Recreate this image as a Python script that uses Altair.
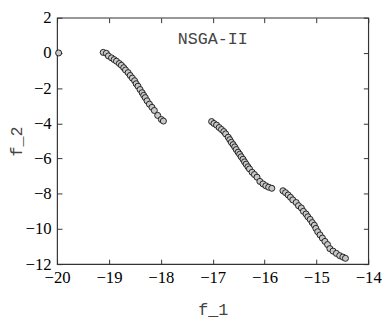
import altair as alt
import pandas as pd

f1 = [
    -19.97,
    -19.11, -19.05, -19.01, -18.95, -18.90, -18.855, -18.80, -18.76, -18.715, -18.68,
    -18.63, -18.59, -18.55, -18.505, -18.475, -18.44, -18.40, -18.36, -18.33, -18.30,
    -18.265, -18.22, -18.17, -18.125, -18.06, -17.99, -17.95,
    -17.02, -16.975, -16.925, -16.875, -16.83, -16.785, -16.75, -16.70, -16.67, -16.64,
    -16.605, -16.575, -16.545, -16.51, -16.48, -16.45, -16.415, -16.385, -16.355, -16.32,
    -16.29, -16.24, -16.195, -16.145, -16.09, -16.03, -15.975, -15.92, -15.86,
    -15.645, -15.595, -15.545, -15.50, -15.455, -15.39, -15.345, -15.29, -15.25, -15.20,
    -15.165, -15.12, -15.08, -15.04, -15.01, -14.975, -14.93, -14.885, -14.835, -14.785,
    -14.74, -14.68, -14.615, -14.55, -14.49, -14.44,
]
f2 = [
    0.0,
    0.03, -0.02, -0.17, -0.28, -0.38, -0.47, -0.60, -0.70, -0.84, -0.97,
    -1.12, -1.28, -1.43, -1.58, -1.75, -1.89, -2.08, -2.26, -2.41, -2.54,
    -2.72, -2.91, -3.09, -3.27, -3.55, -3.78, -3.87,
    -3.90, -4.01, -4.10, -4.24, -4.35, -4.47, -4.60, -4.79, -4.93, -5.08,
    -5.21, -5.34, -5.49, -5.64, -5.76, -5.90, -6.04, -6.19, -6.32, -6.47,
    -6.59, -6.78, -6.91, -7.06, -7.30, -7.44, -7.55, -7.63, -7.69,
    -7.83, -7.94, -8.07, -8.20, -8.35, -8.50, -8.68, -8.81, -9.00, -9.15,
    -9.31, -9.46, -9.64, -9.79, -9.97, -10.16, -10.34, -10.52, -10.71, -10.89,
    -11.12, -11.26, -11.39, -11.52, -11.60, -11.67,
]

x_ticks = [-20, -19, -18, -17, -16, -15, -14]
y_ticks = [-12, -10, -8, -6, -4, -2, 0, 2]

title_x = [-17.0]
title_y = [0.78]
title_text = ["NSGA-II"]

SERIF = "Liberation Serif, Times New Roman, serif"
MONO = "Liberation Mono, Courier New, monospace"

df = pd.DataFrame({"f1": f1, "f2": f2})
df_title = pd.DataFrame({"f1": title_x, "f2": title_y, "label": title_text})

xscale = alt.Scale(domain=[-20, -14], nice=False, zero=False)
yscale = alt.Scale(domain=[-12, 2], nice=False, zero=False)

common = dict(tickSize=5, offset=-5, domain=False, grid=False, labelFlush=False,
              labelFont=SERIF, labelFontSize=17, labelColor="#000000",
              titleFont=MONO, titleFontSize=17, titleFontWeight="normal",
              titleColor="#444444", tickColor="#333333", tickWidth=1)

points = alt.Chart(df).mark_circle(
    size=38, color="#c8c8c8", stroke="#222222", strokeWidth=1, opacity=1
).encode(
    x=alt.X("f1:Q", scale=xscale, axis=alt.Axis(
        orient="bottom", values=x_ticks, labelPadding=6, title="f_1",
        titlePadding=16, format="d", **common)),
    y=alt.Y("f2:Q", scale=yscale, axis=alt.Axis(
        orient="left", values=y_ticks, labelPadding=6, title="f_2",
        titlePadding=0, format="d", **common)),
)

mirror = alt.Chart(df).mark_circle(opacity=0).encode(
    x=alt.X("f1:Q", scale=xscale, axis=alt.Axis(
        orient="top", values=x_ticks, labels=False, title=None, **common)),
    y=alt.Y("f2:Q", scale=yscale, axis=alt.Axis(
        orient="right", values=y_ticks, labels=False, title=None, **common)),
)

label = alt.Chart(df_title).mark_text(
    font=MONO, fontSize=17, color="#444444", baseline="middle", align="center"
).encode(
    x=alt.X("f1:Q", scale=xscale, axis=None),
    y=alt.Y("f2:Q", scale=yscale, axis=None),
    text="label:N",
)

chart = alt.layer(points, mirror, label).resolve_axis(
    x="independent", y="independent"
).properties(
    width=317, height=251,
    autosize=alt.AutoSizeParams(type="none"),
    padding={"left": 50, "top": 7, "right": 14, "bottom": 54},
).configure_view(
    stroke="#333333", strokeWidth=1.2
)

chart.save("out.html", embed_options={"renderer": "svg", "actions": False})
